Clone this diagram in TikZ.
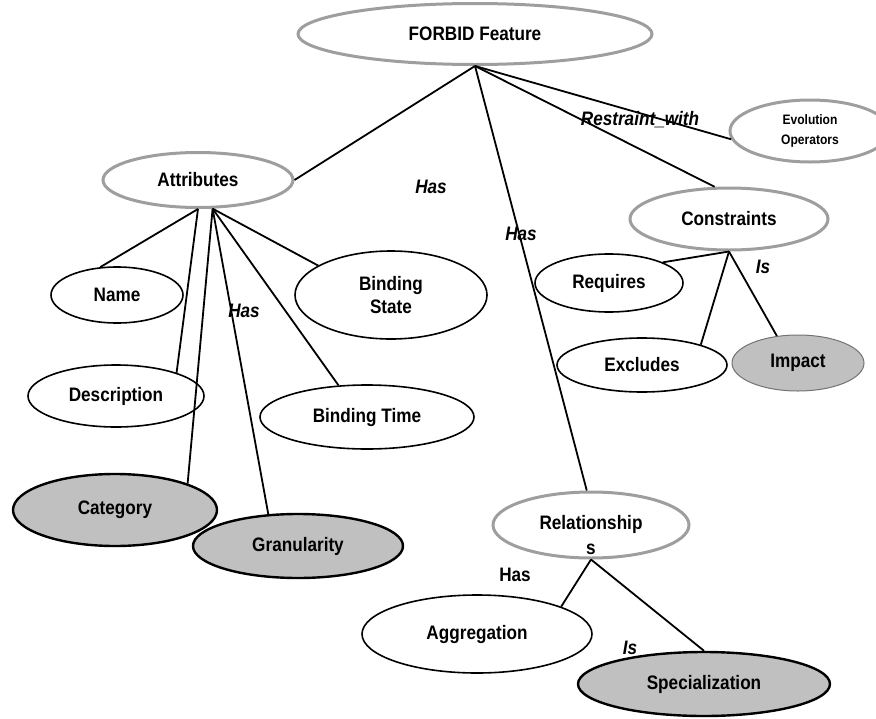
\documentclass[tikz,border=0pt]{standalone}
\usepackage{fontspec}
\setmainfont{Liberation Sans}[FakeStretch=0.88]
\usetikzlibrary{shapes.geometric}
\definecolor{ringgray}{RGB}{158,158,158}
\definecolor{fillgray}{RGB}{192,192,192}
\tikzset{
	ell/.style={ellipse, inner sep=0pt, align=center, font=\bfseries\fontsize{19.5}{23}\selectfont},
	dims/.style 2 args={minimum width=#1pt, minimum height=#2pt},
	greyring/.style={ell, draw=ringgray, line width=3pt, fill=white},
	plainring/.style={ell, draw=black, line width=1.6pt, fill=white},
	shaded/.style={ell, draw=black, line width=2.4pt, fill=fillgray},
	link/.style={line width=1.8pt},
	rolename/.style={font=\bfseries\itshape\fontsize{19.5}{22}\selectfont},
}

\begin{document}
\begin{tikzpicture}[x=1pt, y=-1pt]
		%%%%% START %%%%%
		\useasboundingbox (0,0) rectangle (876,718);
		
		\node[greyring, dims={354}{61}] (feature) at (475,34) {FORBID Feature};
		
		\node[greyring, dims={190}{55}] (attr) at (198,180) {Attributes};
		\node[plainring, dims={132}{56}] (name) at (117,295) {Name};
		\node[plainring, dims={192}{88}] (bstate) at (391,295) {Binding\\State};
		\node[plainring, dims={176}{62}] (desc) at (116,396) {Description};
		\node[plainring, dims={214}{64}] (btime) at (367,417) {Binding Time};
		\node[shaded, dims={204}{72}] (cat) at (115,510) {Category};
		\node[shaded, dims={210}{64}] (gran) at (298,546) {Granularity};
		
		\node[greyring, dims={196}{66}, label={[yshift=-10pt, align=center, font=\bfseries\fontsize{19.5}{25}\selectfont]center:Relationship\\s}] (rel) at (591,525) {};
		\node[plainring, dims={230}{78}] (agg) at (477,634) {Aggregation};
		\node[shaded, dims={252}{64}] (spec) at (704,684) {Specialization};
		
		\node[greyring, dims={160}{62}, font=\bfseries\fontsize{13.7}{20}\selectfont] (evo) at (810,131) {Evolution\\Operators};
		\node[greyring, dims={198}{62}] (cons) at (729,219) {Constraints};
		\node[plainring, dims={148}{58}] (req) at (609,283) {Requires};
		\node[plainring, dims={170}{54}] (excl) at (642,365) {Excludes};
		\node[ell, draw=black!55, line width=1pt, fill=fillgray, dims={132}{56}] (imp) at (798,363) {Impact};
		
		% labels
		\node[rolename] (hasfeat) at (431,187) {Has};
		\node[rolename] (hasrel) at (521,234) {Has};
		\node[rolename] (restr) at (640,120) {Restraint\_with};
		\node[rolename] (hasattr) at (244,311) {Has};
		\node[rolename] (iscons) at (763,267) {Is};
		\node[font=\bfseries\fontsize{19.5}{22}\selectfont] (hasagg) at (515,575) {Has};
		\node[rolename] (isspec) at (630,648) {Is};
		
		% from the feature
		\draw[link] (feature.south) -- (attr.east);
		\draw[link] (feature.south) -- (rel.97);
		\draw[link] (feature.south) -- (cons.114);
		\draw[link] (feature.south) -- (evo.186);
		
		% attributes
		\coordinate (ahub) at (attr.-63);
		\draw[link] (attr.south) -- (name.121);
		\draw[link] (attr.south) -- (desc.21);
		\draw[link] (ahub) -- (cat.20);
		\draw[link] (ahub) -- (gran.133);
		\draw[link] (ahub) -- (btime.132);
		\draw[link] (ahub) -- (bstate.158);
		
		% constraints
		\draw[link] (cons.south) -- (req.21);
		\draw[link] (cons.south) -- (excl.19);
		\draw[link] (cons.south) -- (imp.128);
		
		% relationships
		\draw[link] (rel.south) -- (agg.18);
		\draw[link] (rel.south) -- (spec.north);
		
		%%%%% END %%%%%
	\end{tikzpicture}
\end{document}
